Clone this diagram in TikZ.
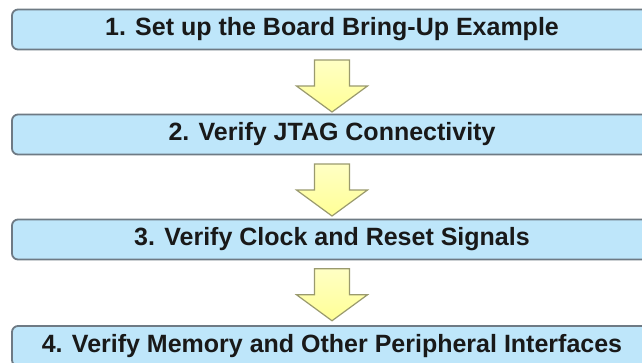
\documentclass[tikz,border=0pt]{standalone}
\usepackage{fontspec}
\setmainfont{Liberation Sans}
\usetikzlibrary{calc}
\definecolor{boxfill}{HTML}{BEE6FA}
\definecolor{boxline}{HTML}{6E7A84}
\definecolor{arrline}{HTML}{9A9A6E}
\definecolor{arrtop}{HTML}{FFFFC4}
\definecolor{arrbot}{HTML}{FFFF96}
\tikzset{
  stepbox/.style={draw=boxline, line width=1.8pt, fill=boxfill, rounded corners=6pt,
    minimum width=640pt, minimum height=40pt, inner sep=0pt,
    font=\fontsize{25}{25}\selectfont\bfseries, text=black!90},
  blockarrow/.style={draw=arrline, line width=1.2pt, line join=miter, top color=arrtop, bottom color=arrbot}
}
\newcommand{\downarrowat}[1]{%
  \path[blockarrow] ($(#1)+(-17.5,-26)$) -- ($(#1)+(17.5,-26)$) -- ($(#1)+(17.5,0)$) -- ($(#1)+(35.5,0)$)
    -- ($(#1)+(0,26)$) -- ($(#1)+(-35.5,0)$) -- ($(#1)+(-17.5,0)$) -- cycle;}
\begin{document}
\begin{tikzpicture}[x=1pt,y=-1pt]
\useasboundingbox (0,0) rectangle (642,362);
\clip (0,0) rectangle (642,362);
\fill[white] (0,0) rectangle (642,362);
\node[stepbox] (b1) at (332,29.5) {1. Set up the Board Bring-Up Example};
\node[stepbox] (b2) at (332,134.5) {2. Verify JTAG Connectivity};
\node[stepbox] (b3) at (332,239.5) {3. Verify Clock and Reset Signals};
\node[stepbox] (b4) at (332,346) {4. Verify Memory and Other Peripheral Interfaces};
\coordinate (a1) at ($(b1.south)!0.5!(b2.north)+(0,4)$);
\coordinate (a2) at ($(b2.south)!0.5!(b3.north)+(0,3)$);
\coordinate (a3) at ($(b3.south)!0.5!(b4.north)+(0,2)$);
\downarrowat{a1}
\downarrowat{a2}
\downarrowat{a3}
\end{tikzpicture}
\end{document}
